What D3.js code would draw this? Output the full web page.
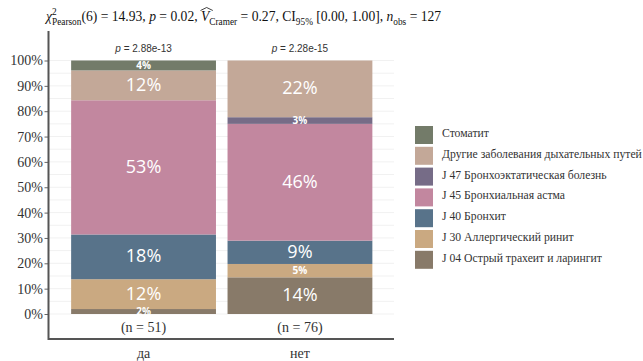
<!DOCTYPE html>
<html>
<head>
<meta charset="utf-8">
<script src="https://cdn.jsdelivr.net/npm/d3@7"></script>
<style>
  body { margin: 0; background: #fff; }
  svg { display: block; }
  .title text { white-space: pre; }
</style>
</head>
<body>
<svg id="chart" width="643" height="361"></svg>
<script>
// Groups on the x axis and their sizes
const groups = ["да", "нет"];
const groupN = [51, 76];
const groupP = ["2.88e-13", "2.28e-15"];

// Diagnoses, stacked bottom to top
const diagnoses = [
  "J 04 Острый трахеит и ларингит",
  "J 30 Аллергический ринит",
  "J 40 Бронхит",
  "J 45 Бронхиальная астма",
  "J 47 Бронхоэктатическая болезнь",
  "Другие заболевания дыхательных путей",
  "Стоматит"
];
const diagnosisColors = ["#887a69", "#caa981", "#58738a", "#c2879f", "#766c87", "#c3a898", "#737b69"];

// Patient counts per diagnosis for each group
const countsDa  = [1, 6, 9, 27, 0, 6, 2];
const countsNet = [11, 4, 7, 35, 2, 17, 0];

// Y axis ticks
const yTicks = [0, 0.1, 0.2, 0.3, 0.4, 0.5, 0.6, 0.7, 0.8, 0.9, 1.0];
const yGrid = d3.range(0, 1.0001, 0.05);

const serif = "'Liberation Serif', 'Times New Roman', serif";
const sans = "'Open Sans', sans-serif";
const sansP = "'Liberation Sans', Arial, sans-serif";

const svg = d3.select("#chart");

const panel = { left: 48.5, right: 394, top: 31, bottom: 339 };

const x = d3.scaleBand()
  .domain(groups)
  .range([60.5, 383])
  .paddingInner(0.074)
  .paddingOuter(0.068);

const y = d3.scaleLinear().domain([0, 1]).range([314, 60.5]);

// Faint horizontal grid
svg.append("g")
  .selectAll("line")
  .data(yGrid)
  .join("line")
  .attr("x1", panel.left)
  .attr("x2", panel.right)
  .attr("y1", d => y(d))
  .attr("y2", d => y(d))
  .attr("stroke", "#f1f1f1")
  .attr("stroke-width", 1);

// Stack the proportions
const countsByGroup = [countsDa, countsNet];
const segments = [];
groups.forEach((g, gi) => {
  const counts = countsByGroup[gi];
  const total = d3.sum(counts);
  let acc = 0;
  counts.forEach((c, di) => {
    const p = c / total;
    segments.push({ group: g, di, p, y0: acc, y1: acc + p });
    acc += p;
  });
});
const visible = segments.filter(s => s.p > 0);

svg.append("g")
  .selectAll("rect")
  .data(visible)
  .join("rect")
  .attr("x", d => x(d.group))
  .attr("width", x.bandwidth())
  .attr("y", d => y(d.y1))
  .attr("height", d => y(d.y0) - y(d.y1))
  .attr("fill", d => diagnosisColors[d.di]);

// Percentage labels inside segments; thin segments get a small bold label
const isThin = d => d.p < 0.08;
svg.append("g")
  .selectAll("text")
  .data(visible)
  .join("text")
  .attr("x", d => x(d.group) + x.bandwidth() / 2)
  .attr("y", d => y((d.y0 + d.y1) / 2))
  .attr("dy", d => isThin(d) ? "0.36em" : "0.3em")
  .attr("text-anchor", "middle")
  .attr("fill", "#fff")
  .attr("font-family", sans)
  .attr("font-size", d => isThin(d) ? 10 : 18)
  .attr("font-weight", d => isThin(d) ? 700 : 400)
  .text(d => Math.round(d.p * 100) + "%");

// p-values above bars
const pText = svg.append("g")
  .selectAll("text")
  .data(groups)
  .join("text")
  .attr("x", d => x(d) + x.bandwidth() / 2)
  .attr("y", 48)
  .attr("dy", "0.35em")
  .attr("text-anchor", "middle")
  .attr("fill", "#333")
  .attr("font-family", sansP)
  .attr("font-size", 10);
pText.append("tspan").attr("font-style", "italic").text("p");
pText.append("tspan").text((d, i) => "\u00a0= " + groupP[i]);

// Sample sizes under bars
svg.append("g")
  .selectAll("text")
  .data(groups)
  .join("text")
  .attr("x", d => x(d) + x.bandwidth() / 2)
  .attr("y", 327)
  .attr("dy", "0.35em")
  .attr("text-anchor", "middle")
  .attr("fill", "#333")
  .attr("font-family", serif)
  .attr("font-size", 14)
  .text((d, i) => "(n = " + groupN[i] + ")");

// Y axis
const yAxis = svg.append("g")
  .attr("transform", `translate(${panel.left},0)`)
  .call(d3.axisLeft(y).tickValues(yTicks).tickFormat(d3.format(".0%")).tickSize(4).tickPadding(1.5));
yAxis.attr("font-family", serif);
yAxis.select(".domain").remove();
yAxis.selectAll(".tick line").attr("stroke", "#666");
yAxis.selectAll(".tick text")
  .attr("fill", "#333")
  .attr("font-family", serif)
  .attr("font-size", 14);

// Panel axis lines
svg.append("path")
  .attr("d", `M${panel.left},${panel.top}V${panel.bottom}H${panel.right}`)
  .attr("fill", "none")
  .attr("stroke", "#555")
  .attr("stroke-width", 2);

// X axis labels
svg.append("g")
  .selectAll("text")
  .data(groups)
  .join("text")
  .attr("x", d => x(d) + x.bandwidth() / 2)
  .attr("y", 353)
  .attr("dy", "0.35em")
  .attr("text-anchor", "middle")
  .attr("fill", "#333")
  .attr("font-family", serif)
  .attr("font-size", 14)
  .text(d => d);

// Legend, top entry is the last stacked diagnosis
const legendOrder = diagnoses.map((d, i) => i).reverse();
const legend = svg.append("g").attr("transform", "translate(415,126)");
const item = legend.selectAll("g")
  .data(legendOrder)
  .join("g")
  .attr("transform", (d, i) => `translate(0,${i * 20.8})`);
item.append("rect")
  .attr("width", 18)
  .attr("height", 18)
  .attr("fill", d => diagnosisColors[d]);
item.append("text")
  .attr("x", 27)
  .attr("y", 11)
  .attr("fill", "#333")
  .attr("font-family", serif)
  .attr("font-size", 11.7)
  .text(d => diagnoses[d]);

// Statistical subtitle, set piece by piece
const title = svg.append("g").attr("class", "title").attr("transform", "translate(46,21)");
const mainSize = 13.6, subSize = 9.3;
let cx = 0;
function piece(txt, opts = {}) {
  return title.append("text")
    .attr("x", cx)
    .attr("y", opts.dy || 0)
    .attr("font-family", serif)
    .attr("font-size", opts.size || mainSize)
    .attr("font-style", opts.italic ? "italic" : "normal")
    .attr("fill", "#111")
    .text(txt);
}
function advance(...texts) {
  cx += d3.max(texts, t => t.node().getComputedTextLength());
}
advance(piece("χ", { italic: true }));
advance(piece("2", { size: subSize, dy: -6.5 }), piece("Pearson", { size: subSize, dy: 3.5 }));
advance(piece("(6) = 14.93, "));
advance(piece("p", { italic: true }));
advance(piece(" = 0.02, "));
const vStart = cx;
advance(piece("V", { italic: true }));
const vEnd = cx;
title.append("path")
  .attr("d", `M${vStart - 0.5},-10.5 L${(vStart + vEnd) / 2 + 1.5},-13.5 L${vEnd + 3.5},-10.5`)
  .attr("fill", "none")
  .attr("stroke", "#111")
  .attr("stroke-width", 0.8);
advance(piece("Cramer", { size: subSize, dy: 3.5 }));
advance(piece(" = 0.27, CI"));
advance(piece("95%", { size: subSize, dy: 3.5 }));
advance(piece(" [0.00, 1.00], "));
advance(piece("n", { italic: true }));
advance(piece("obs", { size: subSize, dy: 3.5 }));
advance(piece(" = 127"));
</script>
</body>
</html>
